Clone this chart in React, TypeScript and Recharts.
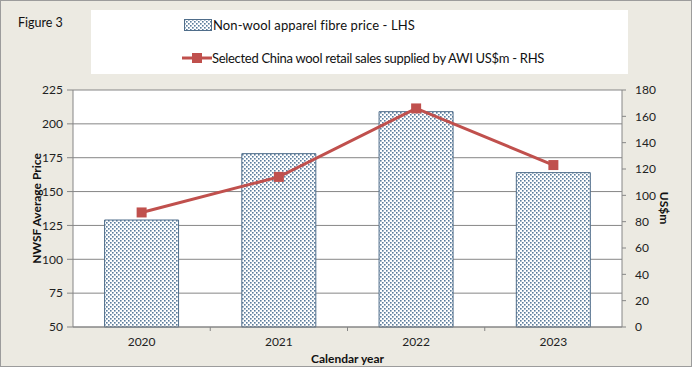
import {
  Bar,
  CartesianGrid,
  ComposedChart,
  Line,
  XAxis,
  YAxis,
} from "recharts";

const years = ["2020", "2021", "2022", "2023"];
const fibrePrice = [129, 178, 209, 164];
const chinaSales = [87, 114, 166, 123];
const leftTicks = [50, 75, 100, 125, 150, 175, 200, 225];
const rightTicks = [0, 20, 40, 60, 80, 100, 120, 140, 160, 180];

const data = years.map((year, i) => ({
  year,
  fibre: fibrePrice[i],
  sales: chinaSales[i],
}));

const FONT = "Lato, 'Open Sans', sans-serif";
const BAR_EDGE = "#4f6d8a";
const DOT = "#5a7c9c";
const LINE_RED = "#c0504d";
const AXIS_GREY = "#868686";

function YearTick(props: any) {
  const { x, y, payload, index } = props;
  const half = payload?.offset ?? 68.6;
  const axisY = y - 10;
  return (
    <g>
      {index < years.length - 1 && (
        <line x1={x + half} y1={axisY} x2={x + half} y2={axisY + 4} stroke={AXIS_GREY} />
      )}
      <text x={x} y={y} dy="0.71em" textAnchor="middle" fontSize={12} fill="#222" fontFamily={FONT}>
        {payload.value}
      </text>
    </g>
  );
}

function DotPattern() {
  return (
    <pattern id="dotPattern" width={4} height={4} patternUnits="userSpaceOnUse">
      <rect width={4} height={4} fill="#ffffff" />
      <rect x={0} y={0} width={1.6} height={1.6} fill={DOT} />
      <rect x={2} y={2} width={1.6} height={1.6} fill={DOT} />
    </pattern>
  );
}

function LegendBox() {
  return (
    <div
      style={{
        position: "absolute",
        left: 90,
        top: 9,
        width: 537,
        height: 64,
        background: "#fff",
        fontFamily: FONT,
        fontSize: 13,
        color: "#111",
      }}
    >
      <div style={{ position: "absolute", left: 93, top: 7, display: "flex", alignItems: "center" }}>
        <svg width={28} height={12} style={{ marginRight: 1 }}>
          <rect x={0.5} y={0.5} width={27} height={11} fill="url(#dotPattern)" stroke={BAR_EDGE} />
        </svg>
        <span style={{ letterSpacing: 0.1 }}>Non-wool apparel fibre price - LHS</span>
      </div>
      <div style={{ position: "absolute", left: 91, top: 40, display: "flex", alignItems: "center" }}>
        <svg width={30} height={12}>
          <line x1={0} y1={6} x2={30} y2={6} stroke={LINE_RED} strokeWidth={3} />
          <rect x={10} y={1} width={10} height={10} fill={LINE_RED} />
        </svg>
        <span style={{ letterSpacing: -0.3 }}>
          Selected China wool retail sales supplied by AWI US$m - RHS
        </span>
      </div>
    </div>
  );
}

export default function App() {
  return (
    <div
      style={{
        position: "absolute",
        left: 0,
        top: 0,
        width: 690,
        height: 365,
        background: "#eceae2",
        border: "1px solid #9c9c9c",
        fontFamily: FONT,
      }}
    >
      <div style={{ position: "absolute", left: -1, top: -1 }}>
        <ComposedChart
          width={692}
          height={367}
          data={data}
          margin={{ top: 90, right: 0, bottom: 0, left: 0 }}
          barCategoryGap="23%"
        >
          <defs>
            <DotPattern />
          </defs>
          <CartesianGrid yAxisId="left" vertical={false} stroke={AXIS_GREY} fill="#ffffff" />
          <XAxis
            dataKey="year"
            height={40}
            tick={<YearTick />}
            tickLine={false}
            tickSize={6}
            tickMargin={4}
            axisLine={{ stroke: AXIS_GREY }}
            label={{
              value: "Calendar year",
              position: "insideBottom",
              offset: 4,
              fontSize: 12,
              fontWeight: 700,
              fill: "#111",
              fontFamily: FONT,
            }}
          />
          <YAxis
            yAxisId="left"
            width={73}
            domain={[50, 225]}
            ticks={leftTicks}
            interval={0}
            tickSize={6}
            tickMargin={4}
            tick={{ fontSize: 12, fill: "#222", fontFamily: FONT }}
            axisLine={{ stroke: AXIS_GREY }}
            tickLine={{ stroke: AXIS_GREY }}
            label={({ viewBox }: any) => (
              <text
                x={viewBox.x + 36}
                y={viewBox.y + viewBox.height / 2}
                transform={`rotate(-90 ${viewBox.x + 36} ${viewBox.y + viewBox.height / 2})`}
                textAnchor="middle"
                dominantBaseline="central"
                fontSize={12}
                fontWeight={700}
                fill="#111"
                fontFamily={FONT}
              >
                NWSF Average Price
              </text>
            )}
          />
          <YAxis
            yAxisId="right"
            orientation="right"
            width={70}
            domain={[0, 180]}
            ticks={rightTicks}
            interval={0}
            tickSize={4}
            tickMargin={9}
            tick={{ fontSize: 12, fill: "#222", fontFamily: FONT }}
            axisLine={{ stroke: AXIS_GREY }}
            tickLine={{ stroke: AXIS_GREY }}
            label={({ viewBox }: any) => (
              <text
                x={viewBox.x + 42}
                y={viewBox.y + 118}
                transform={`rotate(90 ${viewBox.x + 42} ${viewBox.y + 118})`}
                textAnchor="middle"
                dominantBaseline="central"
                fontSize={12}
                fontWeight={700}
                fill="#111"
                fontFamily={FONT}
              >
                US$m
              </text>
            )}
          />
          <Bar
            yAxisId="left"
            dataKey="fibre"
            name="Non-wool apparel fibre price - LHS"
            fill="url(#dotPattern)"
            stroke={BAR_EDGE}
            strokeWidth={1}
            isAnimationActive={false}
          />
          <Line
            yAxisId="right"
            dataKey="sales"
            name="Selected China wool retail sales supplied by AWI US$m - RHS"
            stroke={LINE_RED}
            strokeWidth={3}
            dot={(p: any) => (
              <rect key={p.index} x={p.cx - 5} y={p.cy - 5} width={10} height={10} fill={LINE_RED} />
            )}
            isAnimationActive={false}
          />
        </ComposedChart>
      </div>
      <div style={{ position: "absolute", left: 17, top: 14, fontSize: 12.5, color: "#111" }}>Figure 3</div>
      <LegendBox />
    </div>
  );
}
